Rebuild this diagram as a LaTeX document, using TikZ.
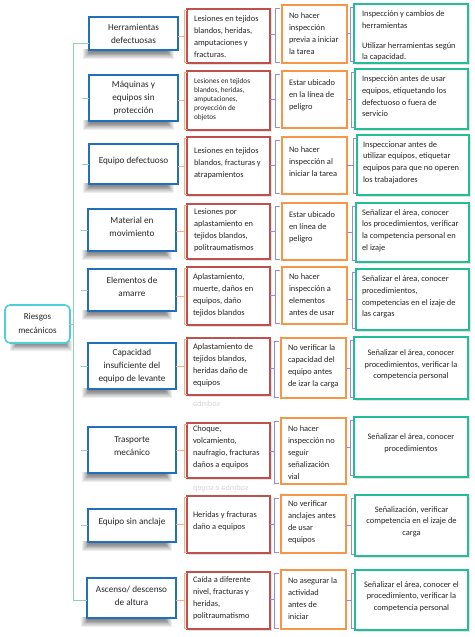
\documentclass[tikz,border=0pt]{standalone}
\usepackage{fontspec}
\setmainfont{Carlito}
\usetikzlibrary{calc,shadows}
\definecolor{bluec}{RGB}{34,112,188}
\definecolor{rootc}{RGB}{80,206,214}
\definecolor{trunkc}{RGB}{140,214,172}
\definecolor{obrc}{RGB}{246,178,126}
\definecolor{redc}{RGB}{192,80,77}
\definecolor{purc}{RGB}{150,138,226}
\definecolor{orac}{RGB}{246,150,70}
\definecolor{grnc}{RGB}{36,190,150}
\definecolor{txtc}{RGB}{38,38,38}
\tikzset{
  x=1pt, y=-1pt,
  box/.style={draw, fill=white, line width=1.6pt, inner sep=0pt, outer sep=0pt, anchor=north west},
  bluebox/.style={box, draw=bluec},
  rootbox/.style={box, draw=rootc, rounded corners=5pt},
  redbox/.style={box, draw=redc, drop shadow={shadow xshift=1.6pt, shadow yshift=-1.6pt, opacity=0.22}},
  orabox/.style={box, draw=orac, drop shadow={shadow xshift=1.2pt, shadow yshift=1.2pt, opacity=0.18}},
  grnbox/.style={box, draw=grnc, drop shadow={shadow xshift=2pt, shadow yshift=-2pt, opacity=0.22}},
  trunk/.style={draw=trunkc, line width=1pt},
  obr/.style={draw=obrc, line width=0.9pt},
  pbr/.style={draw=purc, line width=0.9pt},
  txt/.style={inner sep=0pt, outer sep=0pt, text=txtc},
  bluetxt/.style={txt, align=center, font=\fontsize{9.2}{13}\selectfont},
  roottxt/.style={txt, align=center, font=\fontsize{9}{14}\selectfont},
  redtxt/.style={txt, align=left, anchor=west, font=\fontsize{8.4}{12}\selectfont},
  redsmall/.style={txt, align=left, anchor=west, font=\fontsize{7.3}{9}\selectfont},
  oratxt/.style={txt, align=left, anchor=west, font=\fontsize{8.4}{12}\selectfont},
  grntxt/.style={txt, align=left, anchor=west, font=\fontsize{8.4}{11.7}\selectfont},
  grnctxt/.style={txt, align=center, font=\fontsize{8.4}{11.7}\selectfont},
  reflect/.style={txt, text=black!16, font=\fontsize{8.4}{12}\selectfont, yscale=-1, transform shape},
}
\begin{document}
\begin{tikzpicture}
\fill[white] (0,0) rectangle (474,637);
\useasboundingbox (0,0) rectangle (474,637);

% soft shadows under blue boxes and root
\foreach \xa/\ya/\xb in {83/49/174, 83/120/174, 83/183/174, 82/250/172, 82/310/172, 82/388/172, 82/472/172, 82/541/172, 81/617/172, 10/341/72}{
  \foreach \k in {0,...,8}{
    \fill[black, opacity=0.065] (\xa+0.9*\k, \ya) rectangle (\xb-0.9*\k, \ya+10-0.9*\k);
  }
}

% root
\node[rootbox, minimum width=65, minimum height=38] (root) at (5,305) {};
\node[roottxt] (troot) at (37.5,323.5) {Riesgos\\mecánicos};

% blue boxes
\node[bluebox, minimum width=89, minimum height=33] (b1) at (89,17) {};
\node[bluebox, minimum width=89, minimum height=46] (b2) at (89,75) {};
\node[bluebox, minimum width=89, minimum height=40] (b3) at (89,144) {};
\node[bluebox, minimum width=88, minimum height=42] (b4) at (88,209) {};
\node[bluebox, minimum width=88, minimum height=42] (b5) at (88,269) {};
\node[bluebox, minimum width=88, minimum height=46] (b6) at (88,343) {};
\node[bluebox, minimum width=88, minimum height=46] (b7) at (88,427) {};
\node[bluebox, minimum width=88, minimum height=33] (b8) at (88,509) {};
\node[bluebox, minimum width=89, minimum height=40] (b9) at (87,578) {};

\node[bluetxt] (tb1) at (133.5,33.5) {Herramientas\\defectuosas};
\node[bluetxt] (tb2) at (133.5,98.5) {Máquinas y\\equipos sin\\protección};
\node[bluetxt] (tb3) at (133.5,161) {Equipo defectuoso};
\node[bluetxt] (tb4) at (132,227) {Material en\\movimiento};
\node[bluetxt] (tb5) at (132,286.5) {Elementos de\\amarre};
\node[bluetxt] (tb6) at (132,366.5) {Capacidad\\insuficiente del\\equipo de levante};
\node[bluetxt] (tb7) at (132,446) {Trasporte\\mecánico};
\node[bluetxt] (tb8) at (132,522) {Equipo sin anclaje};
\node[bluetxt] (tb9) at (131.5,596) {Ascenso/ descenso\\de altura};

% red boxes
\node[redbox, minimum width=83, minimum height=54] (r1) at (187,9) {};
\node[redbox, minimum width=83, minimum height=59] (r2) at (187,71) {};
\node[redbox, minimum width=83, minimum height=58] (r3) at (187,137) {};
\node[redbox, minimum width=83, minimum height=55] (r4) at (187,204) {};
\node[redbox, minimum width=83, minimum height=58] (r5) at (187,267) {};
\node[redbox, minimum width=83, minimum height=57] (r6) at (187,338) {};
\node[redbox, minimum width=83, minimum height=55] (r7) at (187,423) {};
\node[redbox, minimum width=83, minimum height=57] (r8) at (187,496) {};
\node[redbox, minimum width=83, minimum height=57] (r9) at (187,572) {};

\node[redtxt] (tr1) at (194,36.5) {Lesiones en tejidos\\blandos, heridas,\\amputaciones y\\fracturas.};
\node[redsmall] (tr2) at (194,99.5) {Lesiones en tejidos\\blandos, heridas,\\amputaciones,\\proyección de\\objetos};
\node[redtxt] (tr3) at (194,163.5) {Lesiones en tejidos\\blandos, fracturas y\\atrapamientos};
\node[redtxt] (tr4) at (194,230) {Lesiones por\\aplastamiento en\\tejidos blandos,\\politraumatismos};
\node[redtxt] (tr5) at (193,295) {Aplastamiento,\\muerte, daños en\\equipos, daño\\tejidos blandos};
\node[redtxt] (tr6) at (193,365.5) {Aplastamiento de\\tejidos blandos,\\heridas daño de\\equipos};
\node[redtxt] (tr7) at (193,447.5) {Choque,\\volcamiento,\\naufragio, fracturas\\daños a equipos};
\node[redtxt] (tr8) at (193,521) {Heridas y fracturas\\daño a equipos};
\node[redtxt] (tr9) at (193,598) {Caída a diferente\\nivel, fracturas y\\heridas,\\politraumatismo};

% faint reflections
\node[reflect, anchor=west] (ref1) at (193,405) {equipos};
\node[reflect, anchor=west] (ref2) at (193,489) {daños a equipos};

% orange boxes
\node[orabox, minimum width=65, minimum height=58] (o1) at (282,5) {};
\node[orabox, minimum width=65, minimum height=57] (o2) at (282,71) {};
\node[orabox, minimum width=65, minimum height=57] (o3) at (282,137) {};
\node[orabox, minimum width=65, minimum height=57] (o4) at (282,203) {};
\node[orabox, minimum width=65, minimum height=57] (o5) at (282,267) {};
\node[orabox, minimum width=65, minimum height=60] (o6) at (281,338) {};
\node[orabox, minimum width=65, minimum height=66] (o7) at (281,418) {};
\node[orabox, minimum width=65, minimum height=58] (o8) at (281,495) {};
\node[orabox, minimum width=65, minimum height=59] (o9) at (281,570) {};

\node[oratxt] (to1) at (289,33.5) {No hacer\\inspección\\previa a iniciar\\la tarea};
\node[oratxt] (to2) at (289,95.5) {Estar ubicado\\en la línea de\\peligro};
\node[oratxt] (to3) at (289,161.5) {No hacer\\inspección al\\iniciar la tarea};
\node[oratxt] (to4) at (289,227.5) {Estar ubicado\\en línea de\\peligro};
\node[oratxt] (to5) at (289,294.5) {No hacer\\inspección a\\elementos\\antes de usar};
\node[oratxt] (to6) at (288,366.5) {No verificar la\\capacidad del\\equipo antes\\de izar la carga};
\node[oratxt] (to7) at (288,453) {No hacer\\inspección no\\seguir\\señalización\\vial};
\node[oratxt] (to8) at (288,522.5) {No verificar\\anclajes antes\\de usar\\equipos};
\node[oratxt] (to9) at (288,598.5) {No asegurar la\\actividad\\antes de\\iniciar};

% green boxes
\node[grnbox, minimum width=114, minimum height=59] (g1) at (354,4) {};
\node[grnbox, minimum width=113, minimum height=60] (g2) at (355,69) {};
\node[grnbox, minimum width=112, minimum height=60] (g3) at (357,135) {};
\node[grnbox, minimum width=113, minimum height=59] (g4) at (356,203) {};
\node[grnbox, minimum width=113, minimum height=61] (g5) at (356,269) {};
\node[grnbox, minimum width=114, minimum height=62] (g6) at (354,337) {};
\node[grnbox, minimum width=114, minimum height=60] (g7) at (354,417) {};
\node[grnbox, minimum width=113, minimum height=61] (g8) at (355,495) {};
\node[grnbox, minimum width=113, minimum height=60] (g9) at (355,570) {};

\node[grntxt] (tg1) at (362,36) {Inspección y cambios de\\herramientas\\[8pt]Utilizar herramientas según\\la capacidad.};
\node[grntxt] (tg2) at (362,96.5) {Inspección antes de usar\\equipos, etiquetando los\\defectuoso o fuera de\\servicio};
\node[grntxt] (tg3) at (363,162.5) {Inspeccionar antes de\\utilizar equipos, etiquetar\\equipos para que no operen\\los trabajadores};
\node[grntxt] (tg4) at (362,230.5) {Señalizar el área, conocer\\los procedimientos, verificar\\la competencia personal en\\el izaje};
\node[grntxt] (tg5) at (362,297) {Señalizar el área, conocer\\procedimientos,\\competencias en el izaje de\\las cargas};
\node[grnctxt] (tg6) at (411,365) {Señalizar el área, conocer\\procedimientos, verificar la\\competencia personal};
\node[grnctxt] (tg7) at (411,443.5) {Señalizar el área, conocer\\procedimientos};
\node[grnctxt] (tg8) at (411.5,521.5) {Señalización, verificar\\competencia en el izaje de\\carga};
\node[grnctxt] (tg9) at (411.5,596.5) {Señalizar el área, conocer el\\procedimiento, verificar la\\competencia personal};

% trunk
\coordinate (ttop) at (73,43);
\coordinate (tbot) at (73,600);
\draw[trunk] (b1.west |- ttop) -- (ttop) -- (tbot) -- (b9.west |- tbot);
\draw[trunk] (root.east) -- (root.east -| ttop);
\foreach \i in {2,...,8}{
  \draw[trunk] ($(b\i.west)+(-7,0)$) -- (b\i.west);
}

% brackets
\foreach \i in {1,...,9}{
  % orange bracket: blue -> red
  \draw[obr] ($(r\i.north west)+(0,1)$) -- ++(-3,0) -- ($(r\i.south west)+(-3,-1)$) -- ++(3,0);
  \draw[obr] (b\i.east |- r\i.west) -- ($(r\i.west)+(-3,0)$);
  % purple bracket: red -> orange
  \draw[pbr] ($(o\i.north west)+(-2,3)$) -- ++(-5,0) -- ($(o\i.south west)+(-7,-1)$) -- ++(5,0);
  \draw[pbr] (r\i.east |- o\i.west) -- ($(o\i.west)+(-7,0)$);
  % purple bracket: orange -> green
  \draw[pbr] ($(g\i.north west)+(-1,3)$) -- ++(-3,0) -- ($(g\i.south west)+(-4,-2)$) -- ++(3,0);
  \draw[pbr] (o\i.east |- g\i.west) -- ($(g\i.west)+(-4,0)$);
}
\end{tikzpicture}
\end{document}
